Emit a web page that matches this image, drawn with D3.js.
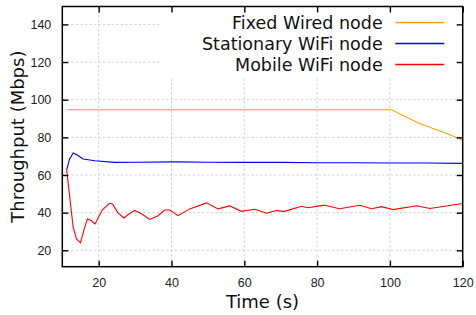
<!DOCTYPE html>
<html>
<head>
<meta charset="utf-8">
<script src="https://cdn.jsdelivr.net/npm/d3@7"></script>
<style>
  body { margin: 0; background: #fff; }
  #chart svg { display: block; font-family: "DejaVu Sans", sans-serif; }
</style>
</head>
<body>
<div id="chart"></div>
<script>
// series
const seriesNames = ["Fixed Wired node", "Stationary WiFi node", "Mobile WiFi node"];
const seriesColors = ["#ffa500", "#0000ff", "#ff0000"];

const wiredTime = [11.2, 100.5, 104, 108, 112, 116, 120];
const wiredValues = [94.7, 94.7, 91.2, 87.5, 84.6, 81.8, 78.5];

const stationaryTime = [11.2, 12, 13, 14, 15.7, 19, 24.4, 30, 41, 50, 60, 70, 80, 90, 100, 110, 120];
const stationaryValues = [62.6, 68.5, 71.7, 70.8, 68.5, 67.6, 66.7, 66.8, 67, 66.8, 66.7, 66.7, 66.5, 66.5, 66.4, 66.4, 66.2];

const mobileTime = [11.2, 11.8, 13, 13.9, 15, 16, 16.9, 18, 19, 21, 23, 23.8, 25.2, 26.9, 28.3, 29.9,
  31.9, 34, 36.3, 38.1, 39.5, 41.8, 45, 49.6, 52.8, 56, 59.2, 62.9, 66.1, 68.8, 71.1, 75.7, 77.5,
  80.7, 82.1, 86.2, 91.7, 95, 97.7, 100.9, 107.3, 111, 120];
const mobileValues = [62.6, 52.5, 32, 26, 24, 31.3, 36.6, 35.7, 34, 41.5, 45, 44.6, 40.2, 37.2, 39.3, 41.2,
  39.3, 36.4, 38.4, 41.4, 41.4, 38.4, 42, 45.2, 42, 43.6, 40.7, 41.8, 39.7, 41.1, 40.7, 43.4, 42.6,
  43.6, 43.9, 42.1, 43.9, 42.1, 43.2, 41.6, 43.7, 42.2, 44.9];

const xTicks = [20, 40, 60, 80, 100, 120];
const yTicks = [20, 40, 60, 80, 100, 120, 140];

const width = 476;
const height = 315;
const plot = { left: 62.3, right: 462.7, top: 6.5, bottom: 266.7 };

const svg = d3.select("#chart").append("svg")
  .attr("width", width)
  .attr("height", height);

const x = d3.scaleLinear().domain([10, 120]).range([plot.left, plot.right]);
const y = d3.scaleLinear().domain([11.3, 149.5]).range([plot.bottom, plot.top]);

// grid
const grid = svg.append("g")
  .attr("stroke", "#c8c8c8")
  .attr("stroke-width", 0.8)
  .attr("stroke-dasharray", "2.5,2");
grid.selectAll("line.gx").data(xTicks).enter().append("line")
  .attr("x1", d => x(d)).attr("x2", d => x(d))
  .attr("y1", plot.top).attr("y2", plot.bottom);
grid.selectAll("line.gy").data(yTicks).enter().append("line")
  .attr("x1", plot.left).attr("x2", plot.right)
  .attr("y1", d => y(d)).attr("y2", d => y(d));

// legend box hides the grid behind it
svg.append("rect")
  .attr("x", 160).attr("y", plot.top + 1)
  .attr("width", plot.right - 161).attr("height", 70)
  .attr("fill", "#fff");

// lines
const series = [
  { t: wiredTime, v: wiredValues },
  { t: stationaryTime, v: stationaryValues },
  { t: mobileTime, v: mobileValues }
];
const line = d3.line().x(d => x(d[0])).y(d => y(d[1]));
series.forEach((s, i) => {
  svg.append("path")
    .datum(d3.zip(s.t, s.v))
    .attr("fill", "none")
    .attr("stroke", seriesColors[i])
    .attr("stroke-width", 1.1)
    .attr("d", line);
});

// axes with inward ticks on all four sides
const tickLen = 6;
const axisStyle = g => {
  g.select(".domain").remove();
  g.selectAll(".tick line").attr("stroke", "#000").attr("stroke-width", 1.4);
  g.selectAll(".tick text").attr("fill", "#222").style("font-size", "12.5px");
};
svg.append("g")
  .attr("transform", `translate(0,${plot.bottom})`)
  .call(d3.axisBottom(x).tickValues(xTicks).tickSizeInner(-tickLen).tickPadding(11))
  .call(axisStyle);
svg.append("g")
  .attr("transform", `translate(${plot.left},0)`)
  .call(d3.axisLeft(y).tickValues(yTicks).tickSizeInner(-tickLen).tickPadding(11))
  .call(axisStyle);
svg.append("g")
  .attr("transform", `translate(0,${plot.top})`)
  .call(d3.axisTop(x).tickValues(xTicks).tickSizeInner(-tickLen).tickFormat(""))
  .call(axisStyle);
svg.append("g")
  .attr("transform", `translate(${plot.right},0)`)
  .call(d3.axisRight(y).tickValues(yTicks).tickSizeInner(-tickLen).tickFormat(""))
  .call(axisStyle);

// frame
svg.append("rect")
  .attr("x", plot.left).attr("y", plot.top)
  .attr("width", plot.right - plot.left).attr("height", plot.bottom - plot.top)
  .attr("fill", "none").attr("stroke", "#000").attr("stroke-width", 1.5);

// legend
const legend = svg.append("g");
seriesNames.forEach((name, i) => {
  const by = 29 + i * 21;
  legend.append("text")
    .attr("x", 382.7).attr("y", by)
    .attr("text-anchor", "end")
    .attr("fill", "#111")
    .style("font-size", "17.5px")
    .text(name);
  legend.append("line")
    .attr("x1", 395.3).attr("x2", 444.3)
    .attr("y1", by - 6.5).attr("y2", by - 6.5)
    .attr("stroke", seriesColors[i])
    .attr("stroke-width", 1.3);
});

// axis titles
svg.append("text")
  .attr("x", (plot.left + plot.right) / 2).attr("y", 308)
  .attr("text-anchor", "middle")
  .attr("fill", "#111")
  .style("font-size", "18px")
  .text("Time (s)");
svg.append("text")
  .attr("transform", `translate(24,${(plot.top + plot.bottom) / 2}) rotate(-90)`)
  .attr("text-anchor", "middle")
  .attr("fill", "#111")
  .style("font-size", "18px")
  .text("Throughput (Mbps)");
</script>
</body>
</html>
